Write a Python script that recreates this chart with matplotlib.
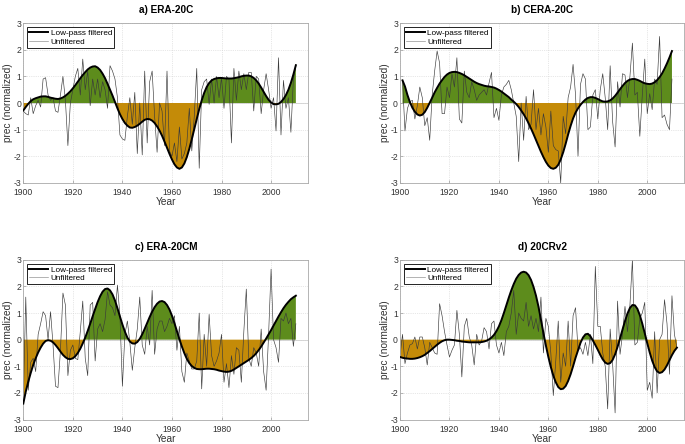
import numpy as np
import matplotlib
matplotlib.use('Agg')
import matplotlib.pyplot as plt

plt.rcParams['font.family'] = ['Liberation Sans', 'DejaVu Sans']
plt.rcParams['axes.unicode_minus'] = False

# ---- 数据 ----
# a) ERA-20C, 1900-2010
years_a = list(range(1900, 2011))
raw_a = [-0.3, -0.4, -0.45, 0.2, -0.4, -0.1, 0.1, -0.15, 0.9, 0.95,
         0.3, 0.1, 0.2, -0.3, -0.35, 0.3, 1.0, 0.1, -1.6, 0.0,
         0.5, 1.0, 1.3, 0.3, 1.65, 0.5, 1.2, -0.1, 0.9, 0.3,
         0.9, 0.2, 0.8, 0.5, -0.2, 1.4, 1.2, 0.9, 0.2, -1.2,
         -1.35, -1.4, -0.5, 0.2, -0.8, 0.4, -1.9, 0.0, -1.95, 1.2,
         -1.5, 0.8, 1.2, -0.5, -1.85, 0.0, -0.3, -1.6, 1.2, -1.8,
         -2.0, -1.5, -2.2, -0.9, -2.1, -1.9, -1.5, -0.2, -1.8, -0.5,
         1.3, -2.45, 0.5, 0.8, 0.9, -0.05, 0.9, 0.0, 1.0, 0.2,
         0.95, -0.2, 1.0, 0.9, -1.5, 1.3, 0.1, 1.2, 0.5, 1.1,
         0.5, 1.15, 1.15, -0.3, 1.0, 0.9, -0.4, 0.5, 1.1, 0.5,
         -0.2, 0.2, -1.05, 1.7, -1.2, 0.85, -0.2, 0.2, -1.1, 0.9,
         1.4]
lp_a = [-0.28, -0.15, -0.03, 0.07, 0.14, 0.18, 0.21, 0.24, 0.25, 0.25,
        0.23, 0.2, 0.18, 0.16, 0.15, 0.17, 0.21, 0.27, 0.35, 0.44,
        0.55, 0.67, 0.8, 0.93, 1.05, 1.16, 1.26, 1.33, 1.37, 1.38,
        1.33, 1.24, 1.1, 0.93, 0.72, 0.5, 0.28, 0.04, -0.2, -0.42,
        -0.6, -0.75, -0.85, -0.92, -0.93, -0.9, -0.85, -0.78, -0.7, -0.63,
        -0.6, -0.61, -0.66, -0.75, -0.88, -1.04, -1.23, -1.45, -1.68, -1.91,
        -2.12, -2.3, -2.42, -2.47, -2.42, -2.27, -2.03, -1.72, -1.36, -0.98,
        -0.6, -0.23, 0.1, 0.38, 0.6, 0.75, 0.85, 0.9, 0.93, 0.94,
        0.94, 0.93, 0.92, 0.92, 0.92, 0.93, 0.95, 0.97, 1.0, 1.02,
        1.03, 1.03, 1.0, 0.94, 0.85, 0.73, 0.58, 0.42, 0.26, 0.12,
        0.02, -0.04, -0.05, -0.03, 0.04, 0.15, 0.3, 0.5, 0.76, 1.07,
        1.42]

# b) CERA-20C, 1901-2010
years_b = list(range(1901, 2011))
raw_b = [0.85, -1.05, -0.2, 0.05, 0.1, -0.6, -0.1, 0.6, 0.2, -0.85,
         -0.55, -1.4, 0.3, 1.2, 1.95, 1.5, -0.4, -0.4, 0.6, 0.2,
         1.1, 0.6, 1.7, -0.6, -0.75, 1.2, 0.4, 0.2, 0.8, 0.5,
         0.1, 0.3, 0.4, 0.5, 0.3, 0.75, 1.15, -0.55, -0.2, -0.65,
         0.3, 0.6, 0.7, 0.85, 0.5, 0.0, -0.5, -2.2, 0.0, -1.4,
         0.25, -1.0, -0.8, 0.5, -1.0, -0.2, -1.2, -0.4, -0.9, -1.85,
         -0.3, -1.6, -1.75, -1.8, -3.0, -0.5, -1.15, 0.2, 0.6, 1.45,
         0.3, -2.0, 0.7, 1.1, 0.9, -1.0, -0.9, 0.3, 0.5, -0.6,
         0.5, 1.1, 0.2, -1.0, 1.4, -0.7, -1.65, 0.8, -0.15, 1.1,
         1.05, 0.2, 1.0, 2.25, 0.3, 0.4, -1.25, 0.3, 1.65, -0.4,
         0.35, -0.25, 0.9, 0.7, 2.5, -0.55, -0.45, -0.8, -1.0, 0.9]
lp_b = [0.85, 0.62, 0.3, 0.03, -0.18, -0.33, -0.43, -0.47, -0.44, -0.34,
        -0.18, 0.01, 0.2, 0.4, 0.57, 0.73, 0.86, 0.98, 1.07, 1.13,
        1.16, 1.17, 1.16, 1.13, 1.09, 1.04, 0.98, 0.92, 0.86, 0.8,
        0.75, 0.71, 0.68, 0.65, 0.63, 0.62, 0.6, 0.58, 0.54, 0.49,
        0.43, 0.36, 0.29, 0.22, 0.13, 0.05, -0.04, -0.15, -0.28, -0.42,
        -0.58, -0.76, -0.96, -1.17, -1.39, -1.61, -1.83, -2.03, -2.21, -2.35,
        -2.44, -2.47, -2.43, -2.32, -2.12, -1.85, -1.53, -1.18, -0.86, -0.58,
        -0.36, -0.2, -0.07, 0.04, 0.13, 0.19, 0.22, 0.22, 0.19, 0.15,
        0.1, 0.06, 0.05, 0.06, 0.1, 0.17, 0.27, 0.39, 0.52, 0.64,
        0.75, 0.83, 0.88, 0.9, 0.9, 0.87, 0.83, 0.78, 0.74, 0.72,
        0.71, 0.73, 0.78, 0.86, 0.97, 1.11, 1.29, 1.49, 1.71, 1.95]

# c) ERA-20CM, 1900-2010
years_c = list(range(1900, 2011))
raw_c = [-2.3, 1.6, -1.9, -0.85, -0.7, -1.2, 0.2, 0.6, 1.05, 0.9,
         0.0, 1.05, -0.2, -1.75, -1.8, -0.4, 1.75, 1.3, -1.35, -0.4,
         -0.2, -0.7, -0.75, 0.3, 1.45, -0.7, -1.35, 1.3, 1.4, -0.8,
         0.4, 0.6, 0.3, 0.75, 1.8, 1.3, 1.2, 0.9, 2.05, 0.9,
         -1.75, 0.2, 0.7, -0.1, -1.15, -0.3, 0.4, 1.6, -0.2, -0.55,
         0.5, -0.2, 1.85, -0.55, 0.4, 0.7, 0.7, 0.3, 0.5, 0.8,
         0.6, 0.9, -0.4, 0.5, -1.2, -1.6, -0.5, -0.8, -1.1, -1.1,
         -0.8, 1.0, -1.85, 0.2, -1.0, 0.95, -0.6, -1.0, -0.8, -0.5,
         0.2, -1.6, -0.9, -1.8, -0.6, -1.3, -0.3, -0.4, -1.6, 0.3,
         1.9, -0.7, -1.0, -0.3, -0.5, -1.0, 0.4, -1.2, -1.9, 0.2,
         2.65, 0.0, -0.3, -0.85, 0.8, 0.7, 1.0, 0.6, 0.8, -0.25,
         0.6]
lp_c = [-2.4, -1.95, -1.58, -1.25, -0.95, -0.7, -0.48, -0.3, -0.15, -0.05,
        -0.02, -0.04, -0.1, -0.2, -0.32, -0.45, -0.57, -0.66, -0.72, -0.73,
        -0.7, -0.62, -0.5, -0.34, -0.14, 0.08, 0.33, 0.6, 0.88, 1.15,
        1.41, 1.63, 1.8, 1.9, 1.92, 1.85, 1.7, 1.47, 1.18, 0.87,
        0.57, 0.3, 0.08, -0.07, -0.14, -0.15, -0.09, 0.03, 0.2, 0.41,
        0.63, 0.85, 1.05, 1.22, 1.35, 1.43, 1.45, 1.41, 1.3, 1.13,
        0.9, 0.62, 0.32, 0.02, -0.26, -0.51, -0.72, -0.88, -0.99, -1.06,
        -1.1, -1.11, -1.11, -1.1, -1.09, -1.09, -1.1, -1.11, -1.13, -1.16,
        -1.18, -1.2, -1.21, -1.2, -1.17, -1.12, -1.06, -1.0, -0.94, -0.88,
        -0.82, -0.76, -0.69, -0.61, -0.51, -0.39, -0.26, -0.11, 0.04, 0.2,
        0.36, 0.53, 0.7, 0.87, 1.03, 1.18, 1.31, 1.42, 1.52, 1.59,
        1.65]

# d) 20CRv2, 1900-2012
years_d = list(range(1900, 2013))
raw_d = [-0.6, 0.2, -0.9, -0.5, -0.2, -0.15, 0.1, -0.35, 0.1, 0.1,
         -0.3, -0.95, -0.1, -0.3, -0.5, -0.55, 1.35, 0.9, 0.3, -0.2,
         -0.65, -0.4, -0.2, 1.1, 0.2, -1.4, 0.5, 0.8, 0.1, -0.2,
         -0.95, 0.2, -0.2, -0.05, 0.45, 0.3, -0.35, 0.6, 0.7, -0.2,
         -0.5, -0.1, -0.6, 0.3, 0.5, 1.0, 1.85, 0.2, 1.0, 0.8,
         0.7, 1.4, 0.5, 0.9, 0.4, 0.8, 0.3, 1.6, -0.5, 0.8,
         0.5, -0.5, -2.1, -0.8, 0.7, -1.6, -0.5, -1.0, 0.7, -1.0,
         0.9, 1.2, -0.4, -0.3, -0.55, -0.1, -0.6, 0.2, -0.9, 2.75,
         0.5, 0.5, -0.5, -1.0, -2.6, 0.4, -0.9, -2.75, 1.45, -0.55,
         0.2, 1.25, 0.3, 1.3, 3.0, -0.2, -0.1, 0.8, 1.0, 1.4,
         -1.9, -1.6, -2.2, 0.3, -2.0, 0.0, 0.2, 1.5, 0.6, -1.3,
         1.65, 0.2, -0.3]
lp_d = [-0.65, -0.68, -0.7, -0.71, -0.72, -0.72, -0.71, -0.69, -0.66, -0.62,
        -0.57, -0.5, -0.43, -0.35, -0.27, -0.19, -0.12, -0.06, -0.02, 0.0,
        0.0, -0.01, -0.02, -0.04, -0.05, -0.07, -0.08, -0.09, -0.1, -0.1,
        -0.1, -0.1, -0.1, -0.09, -0.07, -0.04, 0.01, 0.08, 0.18, 0.32,
        0.5, 0.73, 1.0, 1.29, 1.58, 1.85, 2.09, 2.29, 2.43, 2.52,
        2.55, 2.52, 2.42, 2.24, 1.98, 1.65, 1.24, 0.75, 0.25, -0.22,
        -0.65, -1.03, -1.35, -1.6, -1.78, -1.86, -1.84, -1.74, -1.55, -1.3,
        -1.0, -0.68, -0.4, -0.12, 0.08, 0.2, 0.22, 0.13, -0.03, -0.2,
        -0.38, -0.57, -0.74, -0.86, -0.91, -0.88, -0.76, -0.55, -0.27, 0.05,
        0.38, 0.7, 0.98, 1.19, 1.3, 1.29, 1.16, 0.92, 0.6, 0.24,
        -0.13, -0.48, -0.79, -1.03, -1.19, -1.25, -1.22, -1.12, -0.96, -0.77,
        -0.58, -0.42, -0.3]

titles = ['a) ERA-20C', 'b) CERA-20C', 'c) ERA-20CM', 'd) 20CRv2']

# 颜色
pos_color = '#5d8c1c'
neg_color = '#c48b08'

fig = plt.figure(figsize=(6.85, 4.44), dpi=100)

# 各子图的位置 (手动调整, 和原图对齐)
rects = [[0.034, 0.588, 0.416, 0.360],
         [0.584, 0.588, 0.415, 0.360],
         [0.034, 0.055, 0.416, 0.360],
         [0.584, 0.055, 0.415, 0.360]]

panels = [(years_a, raw_a, lp_a), (years_b, raw_b, lp_b),
          (years_c, raw_c, lp_c), (years_d, raw_d, lp_d)]

for i, (yrs, raw, lp) in enumerate(panels):
    ax = fig.add_axes(rects[i])
    x = np.array(yrs)
    y = np.array(lp)

    # 填充正负部分
    ax.fill_between(x, y, 0, where=y >= 0, interpolate=True, color=pos_color, lw=0, zorder=1)
    ax.fill_between(x, y, 0, where=y <= 0, interpolate=True, color=neg_color, lw=0, zorder=1)
    ax.axhline(0, color='#c8c8c8', lw=0.5, zorder=0.5)

    l2, = ax.plot(x, raw, color='#3a3a3a', lw=0.45, zorder=2, label='Unfiltered')
    l1, = ax.plot(x, y, color='black', lw=1.4, zorder=3, label='Low-pass filtered')

    ax.set_xlim(1900, 2015)
    ax.set_ylim(-3, 3)
    ax.set_xticks(range(1900, 2001, 20))
    ax.set_yticks(range(-3, 4))
    ax.grid(True, ls=':', lw=0.5, color='#d0d0d0')
    ax.set_axisbelow(True)
    ax.tick_params(axis='x', pad=3.6)
    ax.tick_params(axis='y', pad=1.5)
    ax.tick_params(direction='in', length=2, width=0.5, labelsize=6.2,
                   colors='#9a9a9a', labelcolor='#333333')
    for s in ax.spines.values():
        s.set_color('#a8a8a8')
        s.set_linewidth(0.6)

    ax.set_xlabel('Year', fontsize=7.3, color='#333333', labelpad=0.3)
    ax.set_ylabel('prec (normalized)', fontsize=7.3, color='#333333', labelpad=0)
    ax.set_title(titles[i], fontsize=7.2, fontweight='bold', pad=7)

    leg = ax.legend(handles=[l1, l2], loc='upper left', fontsize=5.9,
                    frameon=True, fancybox=False, framealpha=1,
                    edgecolor='black', borderpad=0.25, labelspacing=0.1,
                    handlelength=2.3, handletextpad=0.3, borderaxespad=0.5)
    leg.get_frame().set_linewidth(0.6)
    leg.get_lines()[1].set_color('#888888')

fig.savefig('out.png', dpi=100)
